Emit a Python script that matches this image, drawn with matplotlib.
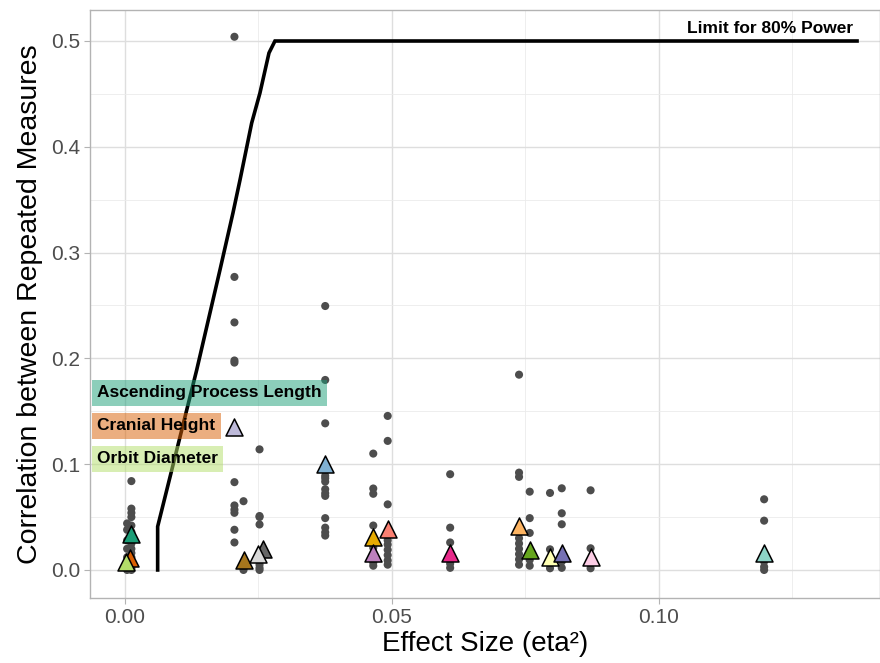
import matplotlib
matplotlib.use("Agg")
import matplotlib.pyplot as plt
from matplotlib.ticker import MultipleLocator

plt.rcParams['font.family'] = ['Liberation Sans', 'DejaVu Sans']

# ---- data ----
# traits: effect size (x), mean correlation (triangle y), colour
trait_names = ["Ascending Process Length", "Cranial Height", "Orbit Diameter",
               "T4", "T5", "T6", "T7", "T8", "T9", "T10", "T11", "T12",
               "T13", "T14", "T15", "T16", "T17", "T18"]
trait_eta = [0.0012, 0.0010, 0.0001, 0.0205, 0.0222, 0.0259, 0.0250, 0.0375,
             0.0465, 0.0465, 0.0492, 0.0609, 0.0738, 0.0758, 0.0796, 0.0818,
             0.0872, 0.1197]
trait_corr = [0.034, 0.011, 0.008, 0.135, 0.009, 0.020, 0.015, 0.100,
              0.031, 0.016, 0.039, 0.016, 0.042, 0.019, 0.0126, 0.0164,
              0.012, 0.0164]
trait_colors = ["#1B9E77", "#D95F02", "#B3DE69", "#BEBADA", "#A6761D", "#666666",
                "#D9D9D9", "#80B1D3", "#E6AB02", "#BC80BD", "#FB8072", "#E7298A",
                "#FDB462", "#66A61E", "#FFFFB3", "#7570B3", "#FCCDE5", "#8DD3C7"]

# individual correlations (grey dots), grouped by effect size column
dot_eta = [0.0004, 0.0012, 0.0205, 0.0222, 0.0252, 0.0375, 0.0465, 0.0492,
           0.0609, 0.0738, 0.0758, 0.0796, 0.0818, 0.0872, 0.1197]
dot_corr = [
    [0.044, 0.038, 0.028, 0.020, 0.012, 0.004, 0.0],
    [0.084, 0.058, 0.054, 0.050, 0.042, 0.036, 0.030, 0.025, 0.020, 0.016, 0.012, 0.006, 0.002, 0.0],
    [0.504, 0.277, 0.234, 0.198, 0.196, 0.083, 0.061, 0.057, 0.054, 0.038, 0.026],
    [0.065, 0.005, 0.002, 0.0],
    [0.114, 0.051, 0.050, 0.043, 0.012, 0.008, 0.005, 0.002, 0.0],
    [0.2495, 0.1796, 0.1386, 0.094, 0.089, 0.0867, 0.0835, 0.0763, 0.0725, 0.070, 0.049, 0.040, 0.0356, 0.0325],
    [0.110, 0.077, 0.072, 0.042, 0.025, 0.021, 0.011, 0.007, 0.004],
    [0.1456, 0.122, 0.062, 0.033, 0.028, 0.024, 0.019, 0.014, 0.009, 0.005],
    [0.0905, 0.040, 0.026, 0.010, 0.006, 0.002],
    [0.1846, 0.092, 0.088, 0.035, 0.030, 0.025, 0.020, 0.015, 0.010, 0.005],
    [0.074, 0.049, 0.035, 0.0095, 0.004],
    [0.0728, 0.0195, 0.008, 0.0016],
    [0.0772, 0.0536, 0.0432, 0.008, 0.002],
    [0.0753, 0.0205, 0.0063, 0.0016],
    [0.0668, 0.0466, 0.008, 0.003, 0.0],
]

# power limit curve
power_eta = [0.00612, 0.00612, 0.01343, 0.01779, 0.02022, 0.02154, 0.02373,
             0.02528, 0.02697, 0.02809, 0.1371]
power_corr = [0.0, 0.041, 0.189, 0.2836, 0.3374, 0.3686, 0.4225, 0.4509,
              0.4887, 0.500, 0.500]

# labelled traits
label_names = ["Ascending Process Length", "Cranial Height", "Orbit Diameter"]
label_colors = ["#1B9E77", "#D95F02", "#B3DE69"]
label_x = [-0.0052, -0.0052, -0.0052]
label_y = [0.1673, 0.1361, 0.1049]

x_ticks = [0.00, 0.05, 0.10]
x_ticklabels = ["0.00", "0.05", "0.10"]
y_ticks = [0.0, 0.1, 0.2, 0.3, 0.4, 0.5]
y_ticklabels = ["0.0", "0.1", "0.2", "0.3", "0.4", "0.5"]

# ---- figure ----
fig = plt.figure(figsize=(8.8, 6.63), dpi=100)
ax = fig.add_axes([90/880, 1-598/663, 790/880, 588/663])

for xv, ys in zip(dot_eta, dot_corr):
    ax.scatter([xv]*len(ys), ys, s=34, color="#4D4D4D", edgecolors="none", zorder=3)

ax.plot(power_eta, power_corr, color="black", lw=2.6, zorder=4, solid_joinstyle="miter")
ax.text(power_eta[-1] - 0.0008, 0.512, "Limit for 80% Power", ha="right", va="center",
        fontsize=12.5, fontweight="bold", zorder=6)

for xv, yv, c in zip(trait_eta, trait_corr, trait_colors):
    ax.scatter([xv], [yv], s=150, marker="^", facecolor=c, edgecolor="black",
               linewidth=1.1, zorder=5)

for name, c, lx, ly in zip(label_names, label_colors, label_x, label_y):
    ax.text(lx, ly, name, ha="left", va="center", fontsize=12.5, fontweight="bold",
            zorder=7,
            bbox=dict(boxstyle="square,pad=0.3", facecolor=c, alpha=0.5, edgecolor="none"))

ax.set_xlim(-0.00655, 0.1414)
ax.set_ylim(-0.0265, 0.5293)
ax.set_xticks(x_ticks)
ax.set_xticklabels(x_ticklabels)
ax.set_yticks(y_ticks)
ax.set_yticklabels(y_ticklabels)
ax.xaxis.set_minor_locator(MultipleLocator(0.025))
ax.yaxis.set_minor_locator(MultipleLocator(0.05))
ax.grid(which="major", color="#DEDEDE", lw=1.0, zorder=0)
ax.grid(which="minor", color="#EBEBEB", lw=0.6, zorder=0)
ax.set_axisbelow(True)
ax.tick_params(which="major", length=4, color="#B3B3B3", labelsize=15,
               labelcolor="#4D4D4D", pad=3)
ax.tick_params(which="minor", length=0)
for s in ax.spines.values():
    s.set_color("#B3B3B3")
    s.set_linewidth(1.0)

ax.set_xlabel("Effect Size (eta²)", fontsize=20, labelpad=3)
ax.set_ylabel("Correlation between Repeated Measures", fontsize=20.5, labelpad=6)

fig.savefig("out.png", dpi=100)
